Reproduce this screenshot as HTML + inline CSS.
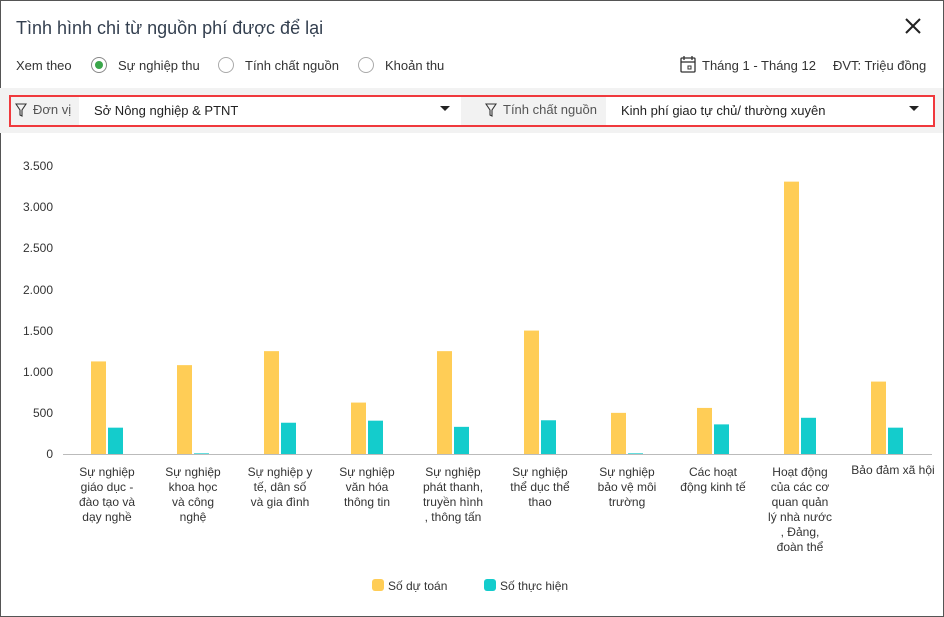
<!DOCTYPE html>
<html><head><meta charset="utf-8"><style>
*{margin:0;padding:0;box-sizing:border-box}
body{width:944px;height:617px;background:#fff;font-family:"Liberation Sans",sans-serif;overflow:hidden;position:relative}
.frame{position:absolute;left:0;top:0;width:944px;height:617px;border:1px solid #555}
.t{position:absolute;white-space:nowrap}
.radio{position:absolute;width:16px;height:16px;border:1px solid #aaa;border-radius:50%}
</style></head><body>
<div class="frame"></div>
<div class="t" style="left:16px;top:18px;font-size:18px;color:#333f4f">Tình hình chi từ nguồn phí được để lại</div>
<svg style="position:absolute;left:905px;top:18px" width="16" height="16"><line x1="1" y1="1" x2="15" y2="15" stroke="#222" stroke-width="2"/><line x1="15" y1="1" x2="1" y2="15" stroke="#222" stroke-width="2"/></svg>
<div class="t" style="left:16px;top:58px;font-size:13px;color:#333">Xem theo</div>
<div class="radio" style="left:91px;top:57px;border-color:#888"><div style="position:absolute;left:3px;top:3px;width:8px;height:8px;border-radius:50%;background:#3aa64a"></div></div>
<div class="t" style="left:118px;top:58px;font-size:13px;color:#333">Sự nghiệp thu</div>
<div class="radio" style="left:218px;top:57px"></div>
<div class="t" style="left:245px;top:58px;font-size:13px;color:#333">Tính chất nguồn</div>
<div class="radio" style="left:358px;top:57px"></div>
<div class="t" style="left:385px;top:58px;font-size:13px;color:#333">Khoản thu</div>
<svg style="position:absolute;left:680px;top:56px" width="16" height="17"><rect x="1" y="2" width="14" height="14" rx="1" fill="none" stroke="#333" stroke-width="1.3"/><line x1="1" y1="6" x2="15" y2="6" stroke="#333" stroke-width="1.3"/><line x1="4" y1="0" x2="4" y2="4" stroke="#333" stroke-width="1.3"/><line x1="12" y1="0" x2="12" y2="4" stroke="#333" stroke-width="1.3"/><rect x="8" y="10" width="3" height="3" fill="none" stroke="#333"/></svg>
<div class="t" style="left:702px;top:58px;font-size:13px;color:#333">Tháng 1 - Tháng 12</div>
<div class="t" style="left:833px;top:58px;font-size:13px;color:#333">ĐVT: Triệu đồng</div>
<div style="position:absolute;left:0;top:88px;width:943px;height:45px;background:#f2f2f2"></div>
<div style="position:absolute;left:9px;top:95px;width:926px;height:32px;border:2px solid #f0393d;background:#f2f2f2"></div>
<div style="position:absolute;left:79px;top:97px;width:382px;height:28px;background:#fff"></div>
<div style="position:absolute;left:606px;top:97px;width:327px;height:28px;background:#fff"></div>
<svg style="position:absolute;left:15px;top:103px" width="12" height="14"><path d="M1 1 H11 L7 7 V13 L5 12 V7 Z" fill="none" stroke="#333" stroke-width="1.1"/></svg>
<div class="t" style="left:33px;top:102px;font-size:13px;color:#555">Đơn vị</div>
<div class="t" style="left:94px;top:103px;font-size:13px;color:#222">Sở Nông nghiệp &amp; PTNT</div>
<svg style="position:absolute;left:440px;top:106px" width="10" height="6"><path d="M0 0H10L5 5Z" fill="#222"/></svg>
<svg style="position:absolute;left:485px;top:103px" width="12" height="14"><path d="M1 1 H11 L7 7 V13 L5 12 V7 Z" fill="none" stroke="#333" stroke-width="1.1"/></svg>
<div class="t" style="left:503px;top:102px;font-size:13px;color:#555">Tính chất nguồn</div>
<div class="t" style="left:621px;top:103px;font-size:13px;color:#222">Kinh phí giao tự chủ/ thường xuyên</div>
<svg style="position:absolute;left:909px;top:106px" width="10" height="6"><path d="M0 0H10L5 5Z" fill="#222"/></svg>
<svg style="position:absolute;left:0;top:0" width="944" height="617" font-family="Liberation Sans, sans-serif">
<g font-size="12" fill="#333" text-anchor="end">
<text x="53" y="170">3.500</text><text x="53" y="211">3.000</text><text x="53" y="252">2.500</text><text x="53" y="294">2.000</text><text x="53" y="335">1.500</text><text x="53" y="376">1.000</text><text x="53" y="417">500</text><text x="53" y="458">0</text>
</g>
<line x1="63" y1="454.5" x2="932" y2="454.5" stroke="#bbb"/>
<g id="bars"></g>
<g font-size="12" fill="#333" text-anchor="middle">
<text x="107" y="476">Sự nghiệp</text><text x="107" y="491">giáo dục -</text><text x="107" y="506">đào tạo và</text><text x="107" y="521">dạy nghề</text>
<text x="193" y="476">Sự nghiệp</text><text x="193" y="491">khoa học</text><text x="193" y="506">và công</text><text x="193" y="521">nghệ</text>
<text x="280" y="476">Sự nghiệp y</text><text x="280" y="491">tế, dân số</text><text x="280" y="506">và gia đình</text>
<text x="367" y="476">Sự nghiệp</text><text x="367" y="491">văn hóa</text><text x="367" y="506">thông tin</text>
<text x="453" y="476">Sự nghiệp</text><text x="453" y="491">phát thanh,</text><text x="453" y="506">truyền hình</text><text x="453" y="521">, thông tấn</text>
<text x="540" y="476">Sự nghiệp</text><text x="540" y="491">thể dục thể</text><text x="540" y="506">thao</text>
<text x="627" y="476">Sự nghiệp</text><text x="627" y="491">bảo vệ môi</text><text x="627" y="506">trường</text>
<text x="713" y="476">Các hoạt</text><text x="713" y="491">động kinh tế</text>
<text x="800" y="476">Hoạt động</text><text x="800" y="491">của các cơ</text><text x="800" y="506">quan quản</text><text x="800" y="521">lý nhà nước</text><text x="800" y="536">, Đảng,</text><text x="800" y="551">đoàn thể</text>
<text x="893" y="474">Bảo đảm xã hội</text>
</g>
<rect x="372" y="579" width="12" height="12" rx="3" fill="#ffcd56"/>
<text x="388" y="590" font-size="12" fill="#333">Số dự toán</text>
<rect x="484" y="579" width="12" height="12" rx="3" fill="#14cccc"/>
<text x="500" y="590" font-size="12" fill="#333">Số thực hiện</text>
</svg>
<script>
var c=[107,193,280,367,453,540,627,713,800,887],y=[1125,1080,1250,625,1250,1500,500,560,3310,880],t=[320,8,380,405,330,410,8,360,440,320];
var s='';for(var i=0;i<10;i++){var h=y[i]*288/3500,g=t[i]*288/3500;
s+='<rect x="'+(c[i]-16)+'" y="'+(454-h)+'" width="15" height="'+h+'" fill="#ffcd56"/>';
s+='<rect x="'+(c[i]+1)+'" y="'+(454-g)+'" width="15" height="'+g+'" fill="#14cccc"/>';}
document.getElementById('bars').innerHTML=s;
</script>
</body></html>
